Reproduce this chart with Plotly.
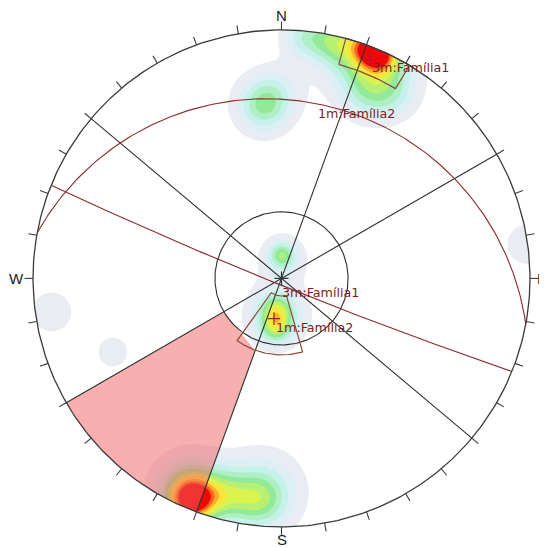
import numpy as np
import plotly.graph_objects as go

# ---------------- data ----------------
# pole concentrations that build the density contours (lower hemisphere)
pole_trend = [20.6, 24.3, 22.5, 5.5, 12.75, 25.4, 31.75, 353.8, 354.2, 358.0, 1.2, 4.2,
              188.5, 186.5, 187.0, 202.0, 203.2, 194.6, 186.1, 185.2, 261.7, 246.4, 82.1]
pole_plunge = [0.6, 1.0, 2.9, 1.2, 1.4, 10.6, 8.1, 20.5, 19.9, 16.0, 79.3, 80.6,
               75.0, 67.3, 73.1, 2.4, 4.0, 6.0, 6.4, 8.5, 3.9, 17.0, 0.2]
pole_weight = [3.2, 2.8, 2.6, 1.7, 2.0, 1.2, 0.8, 1.1, 1.3, 0.8, 1.9, 1.2,
               2.1, 2.1, 1.7, 4.6, 2.8, 1.6, 1.8, 1.6, 0.9, 0.85, 0.9]
pole_spread = [0.052, 0.048, 0.12, 0.066, 0.064, 0.08, 0.072, 0.058, 0.097, 0.07, 0.034, 0.07,
               0.042, 0.042, 0.09, 0.06, 0.1, 0.064, 0.072, 0.12, 0.072, 0.056, 0.072]

density_colors = ["#ffffff", "#e9ecf2", "#dbeff4", "#c6f1ea", "#aeefc6", "#92ea98",
                  "#b8f172", "#dcf24e", "#fbe53a", "#fbae2e", "#f4661c", "#ee0808"]

# joint sets (mean planes) and their windows
set_names = ["3m:Família1", "1m:Família2"]
set_dipdir = [202.0, 10.6]
set_dip = [87.0, 18.7]
win_trend_min = [15.0, 164.0]
win_trend_max = [31.0, 215.5]
win_plunge_min = [0.0, 55.8]
win_plunge_max = [6.6, 81.9]

# kinematic overlay
friction_angle = 30.0
limit_azimuths = [20, 60, 130]
critical_trend = [200, 240]
critical_inner_plunge = [55.6, 60.0]

compass = ["N", "E", "S", "W"]

# ---------------- geometry helpers ----------------
W = H = 547
OFF = 8  # page body margin
CX, CY, RPX = 281.5 - OFF, 278.4 - OFF, 248.5
x_range = [-CX / RPX, (W - CX) / RPX]
y_range = [-(H - CY) / RPX, CY / RPX]


def px(xp, yp):
    return (xp - OFF - CX) / RPX, (CY - (yp - OFF)) / RPX


def proj(trend, plunge):
    t = np.radians(np.asarray(trend, float))
    p = np.radians(np.asarray(plunge, float))
    r = np.tan((np.pi / 2 - p) / 2)
    return r * np.sin(t), r * np.cos(t)


def plane_curve(dd, dip, n=241):
    a = np.radians(np.linspace(0, 180, n))
    st, d, ddr = np.radians(dd - 90), np.radians(dip), np.radians(dd)
    s = np.array([np.sin(st), np.cos(st), 0.0])
    dv = np.array([np.cos(d) * np.sin(ddr), np.cos(d) * np.cos(ddr), np.sin(d)])
    v = np.outer(np.cos(a), s) + np.outer(np.sin(a), dv)
    plunge = np.degrees(np.arcsin(np.clip(v[:, 2], -1, 1)))
    trend = np.degrees(np.arctan2(v[:, 0], v[:, 1]))
    return proj(trend, plunge)


fig = go.Figure()

# ---------------- density ----------------
g = np.linspace(-1.1, 1.1, 441)
GX, GY = np.meshgrid(g, g)
Z = np.zeros_like(GX)
for t, p, w, s in zip(pole_trend, pole_plunge, pole_weight, pole_spread):
    x0, y0 = proj(t, p)
    Z += w * np.exp(-((GX - x0) ** 2 + (GY - y0) ** 2) / (2 * s * s))

nlev = len(density_colors) - 1
fig.add_trace(go.Contour(
    x=g, y=g, z=Z,
    contours=dict(start=0.5, end=0.5 * nlev, size=0.5, coloring="fill", showlines=False),
    colorscale=[[i / nlev, c] for i, c in enumerate(density_colors)],
    line=dict(width=0), showscale=False, hoverinfo="skip"))

# white mask outside the net
ang = np.linspace(np.pi, -np.pi, 361)
mx = [-3, -3, 3, 3, -3, -3] + list(np.cos(ang)) + [-3]
my = [0, -3, -3, 3, 3, 0] + list(np.sin(ang)) + [0]
fig.add_trace(go.Scatter(x=mx, y=my, mode="lines", fill="toself", fillcolor="white",
                         line=dict(width=0, color="white"), hoverinfo="skip"))

# ---------------- critical zone (pink) ----------------
tr = np.linspace(critical_trend[0], critical_trend[1], 60)
rx, ry = proj(tr, np.zeros_like(tr))
ix, iy = proj([critical_trend[1], critical_trend[0]],
              [critical_inner_plunge[1], critical_inner_plunge[0]])
fig.add_trace(go.Scatter(x=list(rx) + list(ix) + [rx[0]], y=list(ry) + list(iy) + [ry[0]],
                         mode="lines", fill="toself", fillcolor="rgba(242,96,96,0.5)",
                         line=dict(width=0), hoverinfo="skip"))

# friction circle
ct = np.linspace(0, 360, 361)
fx, fy = proj(ct, np.full_like(ct, 90 - friction_angle))
fig.add_trace(go.Scatter(x=fx, y=fy, mode="lines", line=dict(color="#2e2e2e", width=1.1),
                         hoverinfo="skip"))

# lateral limit lines
lx, ly = [], []
for az in limit_azimuths:
    a0 = proj(az, 0)
    a1 = proj(az + 180, 0)
    lx += [a0[0], a1[0], None]
    ly += [a0[1], a1[1], None]
fig.add_trace(go.Scatter(x=lx, y=ly, mode="lines", line=dict(color="#2e2e2e", width=1.1),
                         hoverinfo="skip"))

# great circles of the sets
for dd, dp in zip(set_dipdir, set_dip):
    gx_, gy_ = plane_curve(dd, dp)
    fig.add_trace(go.Scatter(x=gx_, y=gy_, mode="lines", line=dict(color="#8b2b2b", width=1.1),
                             hoverinfo="skip"))

# windows
for t0, t1, p0, p1 in zip(win_trend_min, win_trend_max, win_plunge_min, win_plunge_max):
    tt = np.linspace(t0, t1, 40)
    a = proj([t0, t0], [p1, p0])
    b = proj(tt, np.full_like(tt, p0))
    c = proj([t1, t1], [p0, p1])
    d = proj(tt[::-1], np.full_like(tt, p1))
    wx = list(a[0]) + list(b[0]) + list(c[0]) + list(d[0])
    wy = list(a[1]) + list(b[1]) + list(c[1]) + list(d[1])
    fig.add_trace(go.Scatter(x=wx, y=wy, mode="lines", line=dict(color="#8a4b3a", width=1.2),
                             hoverinfo="skip"))

# mean poles
ptx, pty = proj([d + 180 for d in set_dipdir], [90 - d for d in set_dip])
fig.add_trace(go.Scatter(x=ptx, y=pty, mode="markers",
                         marker=dict(symbol="cross-thin", size=9, color="#8b2b2b",
                                     line=dict(color="#8b2b2b", width=1.2)),
                         hoverinfo="skip"))

# centre cross
fig.add_trace(go.Scatter(x=[0], y=[0], mode="markers",
                         marker=dict(symbol="cross-thin", size=10, color="#333333",
                                     line=dict(color="#333333", width=1.2)),
                         hoverinfo="skip"))

# rim and ticks
rx_, ry_ = np.sin(np.radians(ct)), np.cos(np.radians(ct))
fig.add_trace(go.Scatter(x=rx_, y=ry_, mode="lines", line=dict(color="#3a3a3a", width=1.3),
                         hoverinfo="skip"))
tx, ty = [], []
for az in range(0, 360, 10):
    s_, c_ = np.sin(np.radians(az)), np.cos(np.radians(az))
    tx += [s_, 1.034 * s_, None]
    ty += [c_, 1.034 * c_, None]
fig.add_trace(go.Scatter(x=tx, y=ty, mode="lines", line=dict(color="#3a3a3a", width=1.1),
                         hoverinfo="skip"))

# ---------------- text ----------------
ann = []
label_pos = {"N": (281.5, 15.5), "E": (542.0, 278.0), "S": (281.5, 539.0), "W": (16.0, 278.0)}
for lab in compass:
    x_, y_ = px(*label_pos[lab])
    ann.append(dict(x=x_, y=y_, text=lab, showarrow=False,
                    font=dict(family="Liberation Sans", size=15, color="#222222"),
                    xanchor="center", yanchor="middle", borderpad=0))

label_px = [(370, 67, set_names[0]), (316, 113, set_names[1]),
            (280, 292, set_names[0]), (274, 327, set_names[1])]
for xp, yp, txt in label_px:
    x_, y_ = px(xp, yp)
    ann.append(dict(x=x_, y=y_, text=txt, showarrow=False,
                    font=dict(family="DejaVu Sans", size=12.7, color="#7b2222"),
                    xanchor="left", yanchor="middle"))

fig.update_layout(
    width=W, height=H, margin=dict(l=0, r=0, t=0, b=0),
    paper_bgcolor="white", plot_bgcolor="white", showlegend=False,
    xaxis=dict(range=x_range, visible=False, fixedrange=True),
    yaxis=dict(range=y_range, visible=False, fixedrange=True),
    annotations=ann)

fig.write_html("out.html")
